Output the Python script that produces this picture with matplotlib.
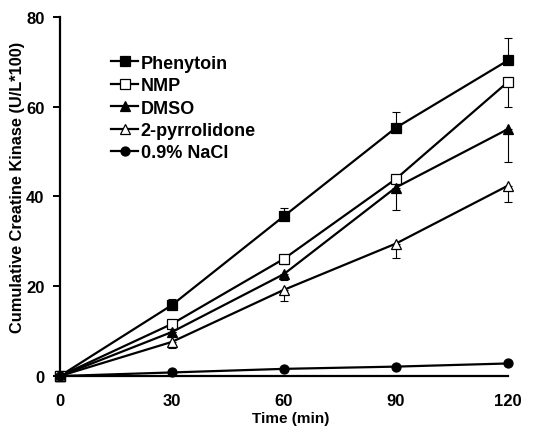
import numpy as np
import matplotlib
matplotlib.use('Agg')
import matplotlib.pyplot as plt

plt.rcParams['font.family'] = ['Liberation Sans', 'DejaVu Sans']
plt.rcParams['font.weight'] = 'bold'

# time points (min)
time = [0, 30, 60, 90, 120]

# cumulative creatine kinase (U/L*100)
phenytoin = [0, 15.8, 35.6, 55.3, 70.3]
nmp = [0, 11.6, 26.1, 43.9, 65.5]
dmso = [0, 9.8, 22.7, 42.0, 55.0]
pyrrolidone = [0, 7.6, 19.2, 29.5, 42.4]
nacl = [0, 0.8, 1.6, 2.1, 2.8]

# one-sided error bars (upper for phenytoin, lower for the rest)
phenytoin_err = [0, 1.3, 1.8, 3.6, 4.9]
nmp_err = [0, 0, 1.2, 1.0, 5.5]
dmso_err = [0, 0, 1.2, 5.1, 7.3]
pyrrolidone_err = [0, 1.4, 2.4, 3.1, 3.7]

series = [
    ('Phenytoin', phenytoin, phenytoin_err, 'upper', 's', 'black'),
    ('NMP', nmp, nmp_err, 'lower', 's', 'white'),
    ('DMSO', dmso, dmso_err, 'lower', '^', 'black'),
    ('2-pyrrolidone', pyrrolidone, pyrrolidone_err, 'lower', '^', 'white'),
    ('0.9% NaCl', nacl, None, None, 'o', 'black'),
]

fig = plt.figure(figsize=(5.49, 4.27), dpi=100)
ax = fig.add_axes([0.109, 0.117, 0.816, 0.841])

for name, vals, err, side, mk, fc in series:
    if err is not None:
        zeros = [0] * len(err)
        yerr = [zeros, err] if side == 'upper' else [err, zeros]
        ax.errorbar(time, vals, yerr=yerr, fmt='none', ecolor='black',
                    elinewidth=0.8, capsize=3, capthick=0.8, clip_on=False, zorder=2)
    ax.plot(time, vals, color='black', lw=1.6, marker=mk, markersize=7 if mk == '^' else 6.5,
            markerfacecolor=fc, markeredgecolor='black', markeredgewidth=0.9,
            label=name, clip_on=False, zorder=3)

ax.set_xlim(0, 120)
ax.set_ylim(0, 80)
ax.set_xticks([0, 30, 60, 90, 120])
ax.set_yticks([0, 20, 40, 60, 80])
ax.spines['top'].set_visible(False)
ax.spines['right'].set_visible(False)
ax.spines['left'].set_linewidth(1.6)
ax.spines['bottom'].set_linewidth(1.6)
ax.tick_params(axis='x', length=0, pad=12, labelsize=12)
ax.tick_params(axis='y', length=5, width=1.4, direction='out', labelsize=12, pad=6)
for lbl in ax.get_xticklabels() + ax.get_yticklabels():
    lbl.set_fontweight('bold')

ax.set_xlabel('Time (min)', fontsize=11, fontweight='bold')
ax.xaxis.set_label_coords(0.515, -0.097)
ax.set_ylabel('Cumulative Creatine Kinase (U/L*100)', fontsize=11.8, fontweight='bold')
ax.yaxis.set_label_coords(-0.078, 0.528)

leg = ax.legend(loc='upper left', bbox_to_anchor=(0.098, 0.915), frameon=False,
                fontsize=13, handlelength=1.5, handletextpad=0.15, labelspacing=0.3,
                borderaxespad=0)
for t in leg.get_texts():
    t.set_fontweight('bold')

plt.savefig('out.png', dpi=100)
